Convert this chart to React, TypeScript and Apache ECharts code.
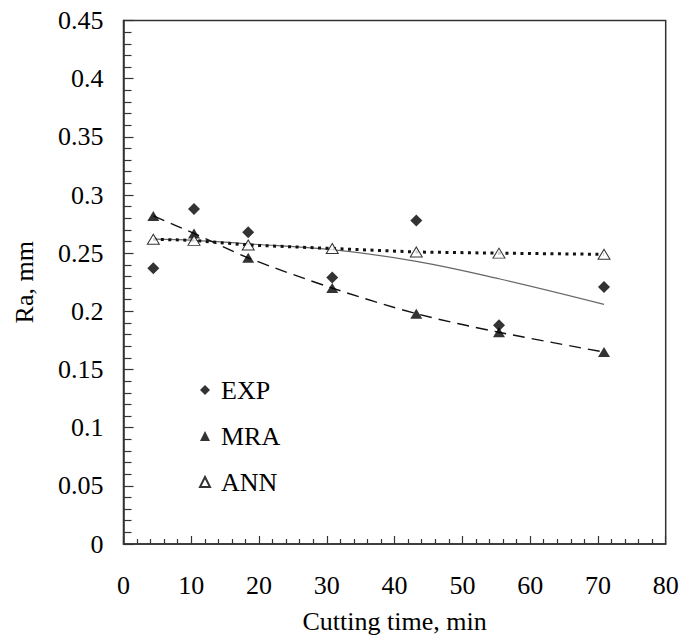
import React, { useEffect, useRef } from "react";
import * as echarts from "echarts";

const cuttingTime = [4.4, 10.4, 18.4, 30.8, 43.2, 55.4, 70.9];
const expValues = [0.237, 0.288, 0.268, 0.229, 0.278, 0.188, 0.221];
const mraValues = [0.282, 0.267, 0.246, 0.22, 0.198, 0.182, 0.165];
const annValues = [0.262, 0.261, 0.257, 0.254, 0.251, 0.25, 0.249];
const trendValues = [0.262, 0.261, 0.258, 0.253, 0.243, 0.228, 0.206];
const seriesNames = ["EXP", "MRA", "ANN"];

const FONT = '"Liberation Serif", "Times New Roman", serif';
const FS = 26;

const pair = (xs: number[], ys: number[]) => xs.map((x, i) => [x, ys[i]]);

export default function App() {
  const ref = useRef<HTMLDivElement>(null);
  useEffect(() => {
    if (!ref.current) return;
    const chart = echarts.init(ref.current, undefined, { renderer: "svg" });
    const axisColor = "#333";
    const option: any = {
      animation: false,
      backgroundColor: "#fff",
      grid: {
        left: 123.5,
        top: 20.5,
        right: 17.3,
        bottom: 98,
        show: true,
        borderColor: axisColor,
        borderWidth: 1.5,
      },
      legend: {
        data: [
          { name: seriesNames[0], icon: "diamond" },
          { name: seriesNames[1], icon: "triangle" },
          { name: seriesNames[2], icon: "triangle" },
        ],
        orient: "vertical",
        left: 194,
        top: 372,
        itemWidth: 10,
        itemHeight: 10,
        itemGap: 20,
        textStyle: {
          fontSize: FS,
          lineHeight: 26,
          fontFamily: FONT,
          color: "#000",
          padding: [0, 0, 0, 6],
        },
      },
      xAxis: {
        type: "value",
        min: 0,
        max: 80,
        interval: 10,
        name: "Cutting time, min",
        nameLocation: "middle",
        nameGap: 64,
        nameTextStyle: { fontSize: FS, fontFamily: FONT, color: "#000" },
        axisLine: { show: true, lineStyle: { color: axisColor, width: 1.5 } },
        axisTick: { show: true, inside: true, length: 8, lineStyle: { color: axisColor, width: 1.2 } },
        minorTick: { show: true, splitNumber: 5, length: 5, lineStyle: { color: axisColor, width: 1.2 } },
        splitLine: { show: false },
        axisLabel: { margin: 28, fontSize: FS, fontFamily: FONT, color: "#000" },
      },
      yAxis: {
        type: "value",
        min: 0,
        max: 0.45,
        interval: 0.05,
        name: "Ra, mm",
        nameLocation: "middle",
        nameGap: 86,
        nameRotate: 90,
        nameTextStyle: { fontSize: FS, fontFamily: FONT, color: "#000" },
        axisLine: { show: true, lineStyle: { color: axisColor, width: 1.5 } },
        axisTick: { show: true, inside: true, length: 10, lineStyle: { color: axisColor, width: 1.2 } },
        minorTick: { show: true, splitNumber: 5, length: 8, lineStyle: { color: axisColor, width: 1.2 } },
        splitLine: { show: false },
        axisLabel: {
          margin: 20,
          fontSize: FS,
          fontFamily: FONT,
          color: "#000",
          formatter: (v: number) => String(+v.toFixed(2)),
        },
      },
      series: [
        {
          name: "trend",
          type: "line",
          data: pair(cuttingTime, trendValues),
          smooth: 0.4,
          showSymbol: false,
          symbol: "none",
          lineStyle: { color: "#666", width: 1.2 },
          z: 1,
        },
        {
          name: "MRA line",
          type: "line",
          data: pair(cuttingTime, mraValues),
          smooth: 0.3,
          symbol: "none",
          lineStyle: { color: "#111", width: 1.4, type: [12, 7] },
          z: 1,
        },
        {
          name: "ANN line",
          type: "line",
          data: pair(cuttingTime, annValues),
          symbol: "none",
          lineStyle: { color: "#111", width: 3, type: [3, 4.5] },
          z: 1,
        },
        {
          name: seriesNames[0],
          type: "scatter",
          data: pair(cuttingTime, expValues),
          symbol: "diamond",
          symbolSize: [12, 12],
          itemStyle: { color: "#000" },
          z: 3,
        },
        {
          name: seriesNames[1],
          type: "scatter",
          data: pair(cuttingTime, mraValues),
          symbol: "triangle",
          symbolSize: [12, 10],
          itemStyle: { color: "#000" },
          z: 3,
        },
        {
          name: seriesNames[2],
          type: "scatter",
          data: pair(cuttingTime, annValues),
          symbol: "triangle",
          symbolSize: [12, 10],
          itemStyle: { color: "#fff", borderColor: "#000", borderWidth: 1 },
          z: 4,
        },
      ],
    };
    chart.setOption(option);
    return () => chart.dispose();
  }, []);
  return <div ref={ref} style={{ width: 683, height: 642, position: "absolute", left: 0, top: 0 }} />;
}
